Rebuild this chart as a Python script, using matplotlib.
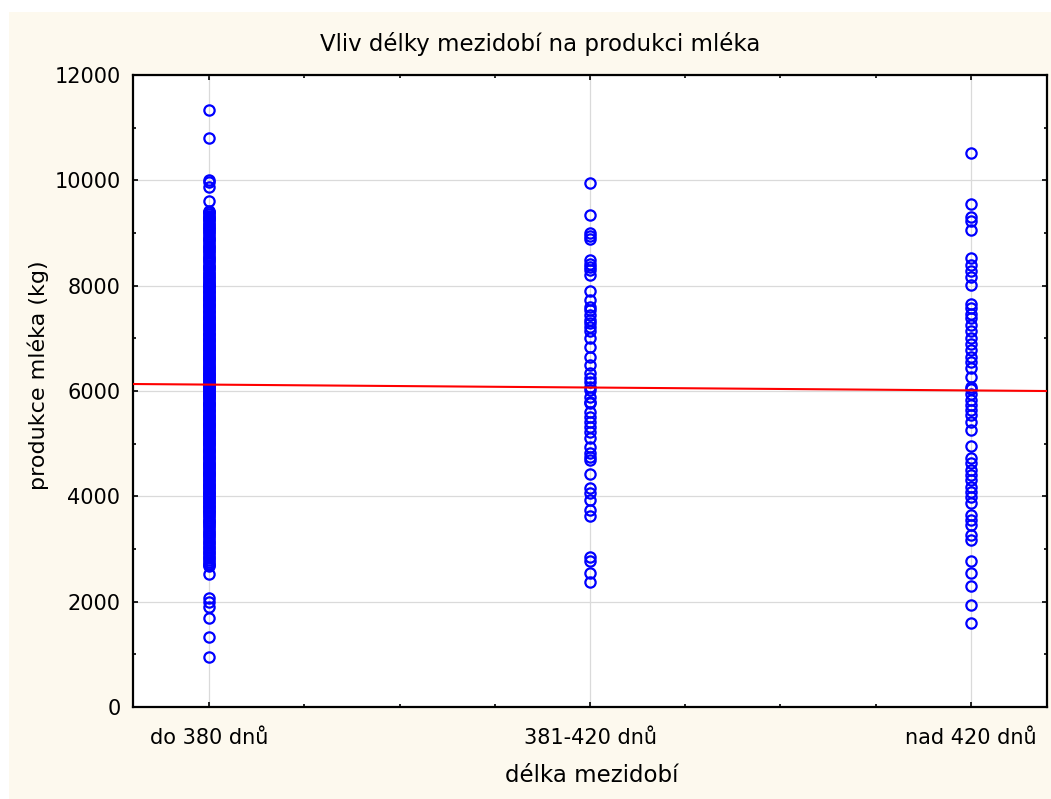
import matplotlib.pyplot as plt
import numpy as np
from matplotlib.patches import Rectangle
from matplotlib.ticker import MultipleLocator

plt.rcParams["font.family"] = ["DejaVu Sans"]

categories = ["do 380 dnů", "381-420 dnů", "nad 420 dnů"]

milk_short = [
    11330, 10800, 10010, 9960, 9870, 9600,
    9420, 9390, 9330, 9280, 9240, 9170, 9120, 9070, 9010, 8940, 8890, 8830,
    8760, 8710, 8650, 8580, 8530, 8470, 8400, 8360, 8310, 8250, 8180, 8140,
    8090, 8030, 7990, 7950, 7890, 7860, 7800, 7770, 7720, 7670, 7630, 7600,
    7540, 7500, 7450, 7410, 7380, 7320, 7270, 7240, 7200, 7150, 7090, 7060,
    7010, 6960, 6930, 6880, 6830, 6790, 6760, 6700, 6650, 6620, 6580, 6530,
    6470, 6440, 6400, 6340, 6310, 6270, 6210, 6180, 6140, 6090, 6050, 6020,
    5960, 5920, 5890, 5840, 5780, 5750, 5710, 5650, 5620, 5570, 5530, 5490,
    5450, 5390, 5360, 5320, 5260, 5230, 5180, 5140, 5090, 5060, 5020, 4970,
    4920, 4880, 4840, 4790, 4750, 4720, 4660, 4620, 4570, 4540, 4490, 4440,
    4400, 4360, 4310, 4260, 4220, 4170, 4130, 4090, 4040, 3980, 3940, 3900,
    3840, 3790, 3750, 3700, 3640, 3590, 3530, 3490, 3430, 3360, 3300, 3240,
    3170, 3120, 3040, 2980, 2920, 2850, 2790, 2720, 2680,
    9400, 9360, 9310, 9260, 9200, 9150, 9100, 9040, 8980, 8910, 8860, 8800,
    8730, 8680, 8620, 8550, 8500, 8440, 8380, 8330, 8280, 8220, 8160, 8110,
    8060, 8010, 7970, 7920, 7880, 7830, 7790, 7740, 7700, 7650, 7610, 7570,
    7520, 7480, 7430, 7390, 7350, 7300, 7260, 7220, 7170, 7120, 7080, 7030,
    6990, 6950, 6900, 6860, 6810, 6770, 6730, 6680, 6640, 6600, 6550, 6500,
    6460, 6420, 6370, 6330, 6290, 6240, 6200, 6160, 6120, 6070, 6030, 5990,
    5940, 5900, 5860, 5810, 5770, 5730, 5690, 5640, 5600, 5550, 5510, 5470,
    5420, 5380, 5340, 5290, 5250, 5210, 5160, 5120, 5080, 5040, 4990, 4950,
    4900, 4860, 4820, 4770, 4730, 4690, 4640, 4600, 4560, 4510, 4470, 4420,
    4380, 4330, 4290, 4240, 4200, 4150, 4110, 4060, 4020, 3960, 3920, 3870,
    3820, 3770, 3730, 3680, 3620, 3560, 3510, 3460, 3400, 3330, 3270, 3210,
    3140, 3080, 3010, 2950, 2890, 2820, 2750, 2700,
    2530, 2070, 1990, 1900, 1690, 1320, 940,
]
milk_mid = [
    9955, 9340, 9000, 8950, 8880, 8490, 8420, 8360, 8300, 8200, 7890, 7730,
    7600, 7530, 7440, 7350, 7290, 7220, 7130, 7010, 6840, 6650, 6500, 6340,
    6250, 6180, 6080, 6020, 5890, 5800, 5770, 5610, 5510, 5420, 5320, 5230,
    5100, 4940, 4820, 4750, 4690, 4420, 4160, 4060, 3930, 3740, 3620,
    2840, 2780, 2540, 2380,
]
milk_long = [
    10520, 9560, 9310, 9220, 9060, 8520, 8390, 8270, 8170, 8010, 7660, 7570,
    7470, 7380, 7250, 7130, 7000, 6900, 6780, 6650, 6560, 6430, 6270, 6080,
    6040, 5950, 5830, 5730, 5640, 5540, 5420, 5260, 4960, 4720, 4630, 4500,
    4410, 4310, 4180, 4090, 3990, 3870, 3650, 3550, 3460, 3270, 3170, 2780,
    2550, 2290, 1940, 1590,
]
groups = [milk_short, milk_mid, milk_long]

# linear fit across the category index
fit_intercept = 6177
fit_slope = -55.4

W, H = 1051, 799
fig = plt.figure(figsize=(W / 100, H / 100), dpi=100, facecolor="white")
fig.patches.append(Rectangle((9 / W, 0), 1 - 9 / W, 1 - 12 / H,
                             transform=fig.transFigure, facecolor="#FDF9EE",
                             edgecolor="none", zorder=-10))

ax = fig.add_axes([133 / W, 1 - 707 / H, (1047 - 133) / W, (707 - 75) / H])
ax.set_facecolor("white")

for i, vals in enumerate(groups):
    x = np.full(len(vals), i + 1.0)
    ax.plot(x, vals, linestyle="none", marker="o", markersize=7.4,
            markerfacecolor="none", markeredgecolor="#0000FF",
            markeredgewidth=1.6, zorder=3)

xs = np.array([0.8, 3.2])
ax.plot(xs, fit_intercept + fit_slope * xs, color="red", lw=1.5, zorder=4)

ax.set_xlim(0.8, 3.2)
ax.set_ylim(0, 12000)
ax.set_xticks(range(1, len(categories) + 1))
ax.set_xticklabels(categories)
ax.xaxis.set_minor_locator(MultipleLocator(0.25))
ax.yaxis.set_major_locator(MultipleLocator(2000))
ax.yaxis.set_minor_locator(MultipleLocator(1000))

ax.grid(True, which="major", color="#DADADA", lw=0.9, zorder=0)
ax.set_axisbelow(True)

for s in ax.spines.values():
    s.set_linewidth(1.6)
    s.set_color("black")

ax.tick_params(which="both", direction="in", top=True, right=True,
               color="black", width=1.2)
ax.tick_params(which="major", length=3.5, labelsize=15)
ax.tick_params(axis="x", which="major", pad=15)
ax.tick_params(axis="y", which="major", pad=9)
ax.tick_params(which="minor", length=2)

ax.set_title("Vliv délky mezidobí na produkci mléka", fontsize=16.5,
             x=0.446, y=1.049, va="center", pad=0)
ax.set_xlabel("délka mezidobí", fontsize=16.5, va="center")
ax.xaxis.set_label_coords(0.502, -0.1076)
ax.set_ylabel("produkce mléka (kg)", fontsize=16, va="center")
ax.yaxis.set_label_coords(-0.104, 0.525)

fig.savefig("out.png", dpi=100, facecolor=fig.get_facecolor())
